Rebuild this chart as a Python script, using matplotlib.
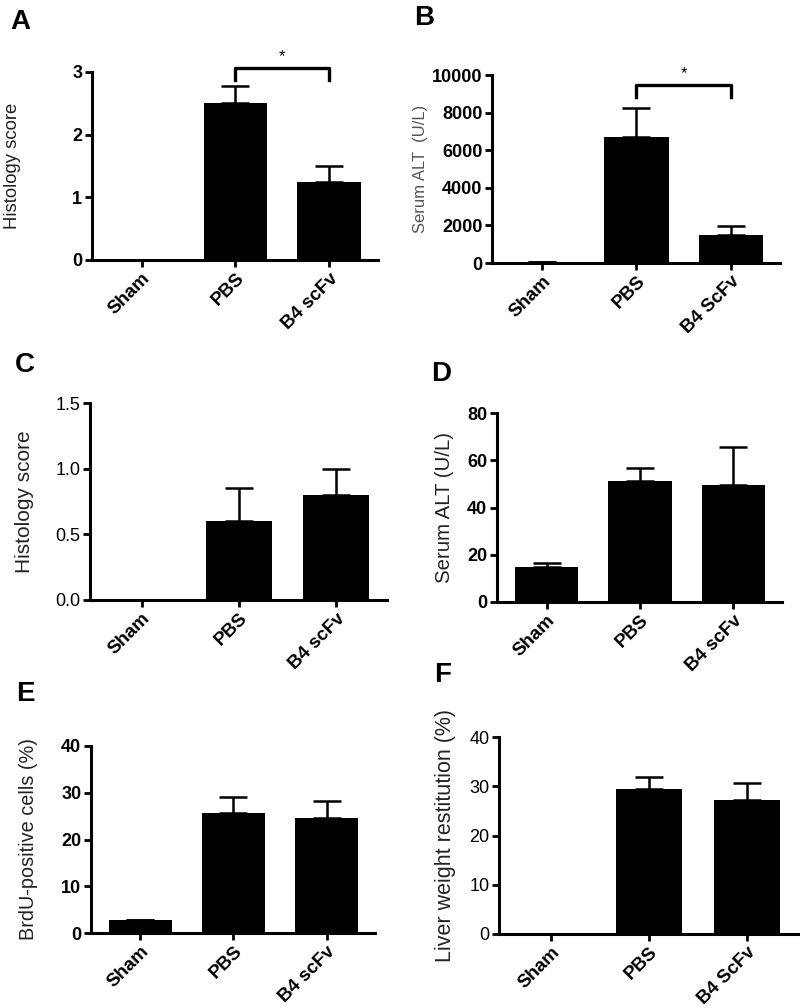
import matplotlib
matplotlib.use("Agg")
import matplotlib.pyplot as plt

plt.rcParams['font.family'] = ['Liberation Sans', 'DejaVu Sans']

# Data ______________________________________________________________________
groups_a = ["Sham", "PBS", "B4 scFv"]
groups_b = ["Sham", "PBS", "B4 ScFv"]

hist_a = [0, 2.5, 1.25]
hist_a_err = [0, 0.28, 0.25]

alt_b = [40, 6700, 1500]
alt_b_err = [10, 1550, 450]

hist_c = [0, 0.6, 0.8]
hist_c_err = [0, 0.25, 0.2]

alt_d = [14.8, 51.2, 49.5]
alt_d_err = [1.5, 5.5, 16.2]

brdu_e = [2.8, 25.7, 24.6]
brdu_e_err = [0, 3.4, 3.7]

liver_f = [0, 29.4, 27.2]
liver_f_err = [0, 2.5, 3.5]

# Panel settings: letter, rect (px: left, top, right, bottom), values, ...
W, H = 800, 1008
panels = [
    dict(letter="A", rect=(92, 72, 378, 260), labels=groups_a, vals=hist_a, errs=hist_a_err,
         ylim=3, yticks=[0, 1, 2, 3], ylabel="Histology score", tickbold=True,
         letter_xy=(20, 22), ylab_x=13, ylab_color="#222222", ylab_size=13.3,
         fmt=lambda v: "%d" % v, star=(2.87, 3.06, 3.13)),
    dict(letter="B", rect=(492, 75, 780, 263), labels=groups_b, vals=alt_b, errs=alt_b_err,
         ylim=10000, yticks=[0, 2000, 4000, 6000, 8000, 10000], ylabel="Serum ALT  (U/L)",
         tickbold=True, letter_xy=(424, 18), ylab_x=421, ylab_color="#555555", ylab_size=12,
         fmt=lambda v: "%d" % v, star=(8830, 9470, 9700)),
    dict(letter="C", rect=(90, 403, 387, 600), labels=groups_a, vals=hist_c, errs=hist_c_err,
         ylim=1.5, yticks=[0, 0.5, 1.0, 1.5], ylabel="Histology score", tickbold=False,
         letter_xy=(25, 365), ylab_x=25, ylab_color="#222222", ylab_size=15,
         fmt=lambda v: "%.1f" % v, star=None),
    dict(letter="D", rect=(497, 413, 782, 602), labels=groups_a, vals=alt_d, errs=alt_d_err,
         ylim=80, yticks=[0, 20, 40, 60, 80], ylabel="Serum ALT (U/L)", tickbold=True,
         letter_xy=(441, 374), ylab_x=444, ylab_color="#222222", ylab_size=14.7,
         fmt=lambda v: "%d" % v, star=None),
    dict(letter="E", rect=(91, 746, 375, 933), labels=groups_a, vals=brdu_e, errs=brdu_e_err,
         ylim=40, yticks=[0, 10, 20, 30, 40], ylabel="BrdU-positive cells (%)", tickbold=True,
         letter_xy=(25, 694), ylab_x=28, ylab_color="#222222", ylab_size=14.3,
         fmt=lambda v: "%d" % v, star=None),
    dict(letter="F", rect=(499, 737, 798, 934), labels=groups_b, vals=liver_f, errs=liver_f_err,
         ylim=40, yticks=[0, 10, 20, 30, 40], ylabel="Liver weight restitution (%)", tickbold=False,
         letter_xy=(443, 675), ylab_x=445, ylab_color="#222222", ylab_size=15.5,
         fmt=lambda v: "%d" % v, star=None),
]

fig = plt.figure(figsize=(W / 100, H / 100), dpi=100)

for p in panels:
    l, t, r, b = p["rect"]
    ax = fig.add_axes([l / W, 1 - b / H, (r - l) / W, (b - t) / H])
    x = list(range(len(p["vals"])))
    ax.bar(x, p["vals"], width=0.68, color="black", zorder=2)
    # upper error bars only
    ax.errorbar(x, p["vals"], yerr=[[0] * 3, p["errs"]], fmt="none", ecolor="black",
                elinewidth=1.8, capsize=10, capthick=1.8, zorder=1)
    ax.set_xlim(-0.53, 2.52)
    ax.set_ylim(0, p["ylim"])
    ax.set_yticks(p["yticks"])
    ax.set_yticklabels([p["fmt"](v) for v in p["yticks"]],
                       fontweight="bold" if p["tickbold"] else "normal", fontsize=13)
    ax.set_xticks(x)
    ax.set_xticklabels(p["labels"], rotation=45, ha="right", rotation_mode="anchor",
                       fontweight="bold", fontsize=13.5)
    for s in ["top", "right"]:
        ax.spines[s].set_visible(False)
    for s in ["left", "bottom"]:
        ax.spines[s].set_linewidth(2.2)
    ax.tick_params(axis="both", width=2, length=5, pad=2)
    ax.patch.set_alpha(0)

    fig.text(p["ylab_x"] / W, 1 - (t + b) / 2 / H, p["ylabel"], rotation=90,
             ha="center", va="center", fontsize=p["ylab_size"], color=p["ylab_color"])
    fig.text(p["letter_xy"][0] / W, 1 - p["letter_xy"][1] / H, p["letter"],
             ha="center", va="center", fontsize=20, fontweight="bold")

    if p["star"] is not None:
        lo, hi, sy = p["star"]
        ax.plot([1, 1, 2, 2], [lo, hi, hi, lo], color="black", lw=2.4, clip_on=False)
        ax.text(1.5, sy, "*", ha="center", va="bottom", fontsize=12, clip_on=False)

fig.savefig("out.png", dpi=100)
